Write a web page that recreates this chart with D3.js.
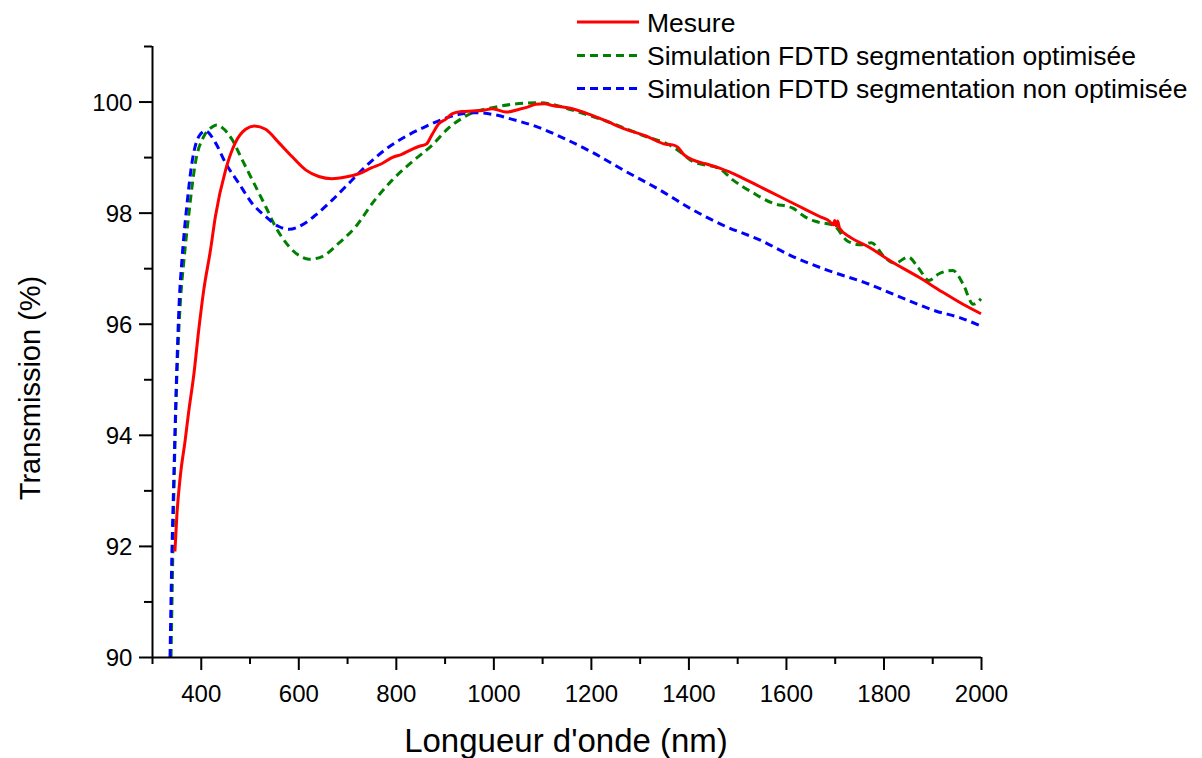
<!DOCTYPE html>
<html><head><meta charset="utf-8">
<script src="https://cdn.jsdelivr.net/npm/d3@7"></script>
<style>
html,body{margin:0;padding:0;background:#fff;}
svg{display:block;font-family:Arial,"Liberation Sans",sans-serif;}
</style></head>
<body><svg id="chart" width="1202" height="758"></svg>
<script>
// ---- data ----
const seriesNames = ["Mesure", "Simulation FDTD segmentation optimisée", "Simulation FDTD segmentation non optimisée"];
const seriesColors = ["#ff0000", "#008000", "#0000ff"];

const mesureX = [347,351,358,368,375,386,396,406,420,430,451,471,492,510,533,560,587,615,642,669,697,724,751,771,792,812,833,850,862,874,888,902,915,935,957,978,998,1026,1053,1070,1087,1105,1121,1162,1197,1231,1272,1313,1354,1368,1378,1390,1409,1435,1464,1505,1546,1587,1628,1669,1690,1697,1700,1703,1706,1710,1733,1768,1816,1872,1921,1963,2000];
const mesureY = [91.9,92.55,93.25,93.9,94.4,95.1,95.9,96.6,97.33,97.93,98.77,99.26,99.5,99.56,99.5,99.26,99.01,98.77,98.65,98.61,98.64,98.70,98.81,98.88,98.99,99.05,99.14,99.2,99.23,99.4,99.6,99.68,99.78,99.82,99.83,99.84,99.87,99.81,99.86,99.9,99.95,99.96,99.93,99.87,99.77,99.65,99.5,99.38,99.23,99.22,99.18,99.05,98.95,98.88,98.80,98.65,98.47,98.29,98.11,97.93,97.84,97.78,97.86,97.76,97.85,97.72,97.55,97.39,97.12,96.84,96.57,96.35,96.18];

const optX = [339,342,345,349,354,359,365,375,389,406,420,433,444,464,485,509,533,553,581,603,622,649,683,718,752,793,834,875,909,940,957,998,1039,1094,1121,1160,1231,1313,1361,1382,1409,1464,1491,1532,1573,1614,1640,1662,1698,1726,1754,1775,1802,1823,1851,1872,1893,1914,1942,1963,1984,2000];
const optY = [90.0,91.5,93.0,94.5,95.7,96.5,97.1,97.93,98.9,99.37,99.52,99.58,99.53,99.32,98.95,98.53,98.11,97.75,97.39,97.22,97.16,97.21,97.45,97.75,98.17,98.59,98.92,99.22,99.53,99.72,99.80,99.89,99.95,99.98,99.95,99.85,99.65,99.37,99.22,99.1,98.92,98.79,98.59,98.36,98.17,98.08,97.92,97.84,97.77,97.49,97.42,97.46,97.2,97.09,97.2,97.0,96.78,96.9,96.96,96.72,96.35,96.45];

const nonOptX = [337,341,344.5,350,356,361,372,382,396,410,430,451,478,505,533,560,581,608,636,670,704,738,779,820,861,902,930,964,998,1039,1094,1149,1204,1272,1341,1409,1477,1546,1614,1683,1768,1837,1907,1956,2000];
const nonOptY = [90.0,91.93,93.13,94.94,96.43,97.1,98.17,98.9,99.37,99.47,99.26,98.89,98.53,98.17,97.93,97.75,97.7,97.78,97.96,98.23,98.53,98.83,99.14,99.37,99.55,99.7,99.77,99.8,99.77,99.68,99.53,99.32,99.08,98.74,98.41,98.05,97.75,97.51,97.21,96.97,96.72,96.47,96.23,96.11,95.96];

const xMajorTicks = [400,600,800,1000,1200,1400,1600,1800,2000];
const xMinorTicks = [300,500,700,900,1100,1300,1500,1700,1900];
const yMajorTicks = [90,92,94,96,98,100];
const yMinorTicks = [91,93,95,97,99,101];

const xLabel = "Longueur d'onde (nm)";
const yLabel = "Transmission (%)";

// ---- drawing ----
const svg = d3.select("#chart");
const L = 152, R = 981, T = 46, B = 657;
const x = d3.scaleLinear().domain([300, 2000]).range([L, R]);
const y = d3.scaleLinear().domain([90, 101]).range([B, T]);

const series = [
  {name: seriesNames[0], xs: mesureX, ys: mesureY, color: seriesColors[0], dash: null},
  {name: seriesNames[1], xs: optX, ys: optY, color: seriesColors[1], dash: "8,5"},
  {name: seriesNames[2], xs: nonOptX, ys: nonOptY, color: seriesColors[2], dash: "8,5"}
];

const line = d3.line().x(d => x(d[0])).y(d => y(d[1])).curve(d3.curveMonotoneX);

svg.append("defs").append("clipPath").attr("id","clip")
  .append("rect").attr("x", L).attr("y", T).attr("width", R - L + 2).attr("height", B - T);

const plot = svg.append("g").attr("clip-path","url(#clip)");
// draw order: green, blue, red on top
[1,2,0].forEach(i => {
  const s = series[i];
  const pts = s.xs.map((v, k) => [v, s.ys[k]]);
  plot.append("path").datum(pts)
    .attr("d", line)
    .attr("fill","none")
    .attr("stroke", s.color)
    .attr("stroke-width", 3)
    .attr("stroke-dasharray", s.dash)
    .attr("stroke-linejoin","round");
});

// axes
const axisColor = "#000";
const xAxisMajor = d3.axisBottom(x).tickValues(xMajorTicks).tickSize(13).tickSizeOuter(0).tickFormat(d3.format("d"));
const xAxisMinor = d3.axisBottom(x).tickValues(xMinorTicks).tickSize(7).tickSizeOuter(0).tickFormat("");
const gxm = svg.append("g").attr("transform", `translate(0,${B})`).call(xAxisMinor);
const gx = svg.append("g").attr("transform", `translate(0,${B})`).call(xAxisMajor);
gxm.select(".domain").remove();
gx.select(".domain").attr("d", `M${L},0.5H${R}`);
const yAxisMajor = d3.axisLeft(y).tickValues(yMajorTicks).tickSize(13).tickSizeOuter(0).tickFormat(d3.format("d"));
const yAxisMinor = d3.axisLeft(y).tickValues(yMinorTicks).tickSize(8).tickSizeOuter(0).tickFormat("");
const gym = svg.append("g").attr("transform", `translate(${L},0)`).call(yAxisMinor);
const gy = svg.append("g").attr("transform", `translate(${L},0)`).call(yAxisMajor);
gym.select(".domain").remove();
gy.select(".domain").attr("d", `M0.5,${T}V${B}`);

[gx, gxm, gy, gym].forEach(g => {
  g.selectAll("line").attr("stroke", axisColor).attr("stroke-width", 2);
  g.selectAll(".domain").attr("stroke", axisColor).attr("stroke-width", 2);
});
gx.selectAll("text").attr("font-size", 24).attr("fill","#000").attr("font-family","Arial, 'Liberation Sans', sans-serif").attr("dy", "1.2em");
gy.selectAll("text").attr("font-size", 24).attr("fill","#000").attr("font-family","Arial, 'Liberation Sans', sans-serif").attr("dx","-0.15em").attr("dy","0.36em");

// axis titles
svg.append("text").attr("x", 566).attr("y", 752)
  .attr("text-anchor","middle").attr("font-size", 33).attr("fill","#000").text(xLabel);
svg.append("text").attr("transform", `translate(40,${388}) rotate(-90)`)
  .attr("text-anchor","middle").attr("font-size", 29).attr("fill","#000").text(yLabel);

// legend
const legend = svg.append("g");
const legRows = [22, 55.5, 88.5];
series.forEach((s, i) => {
  const g = legend.append("g").attr("transform", `translate(0,${legRows[i]})`);
  g.append("line").attr("x1", 577).attr("x2", 639).attr("y1", 0).attr("y2", 0)
    .attr("stroke", s.color).attr("stroke-width", 3).attr("stroke-dasharray", s.dash);
  g.append("text").attr("x", 647).attr("y", 0).attr("dy","0.36em")
    .attr("font-size", 26.5).attr("fill","#000").text(s.name);
});
</script>
</body></html>
